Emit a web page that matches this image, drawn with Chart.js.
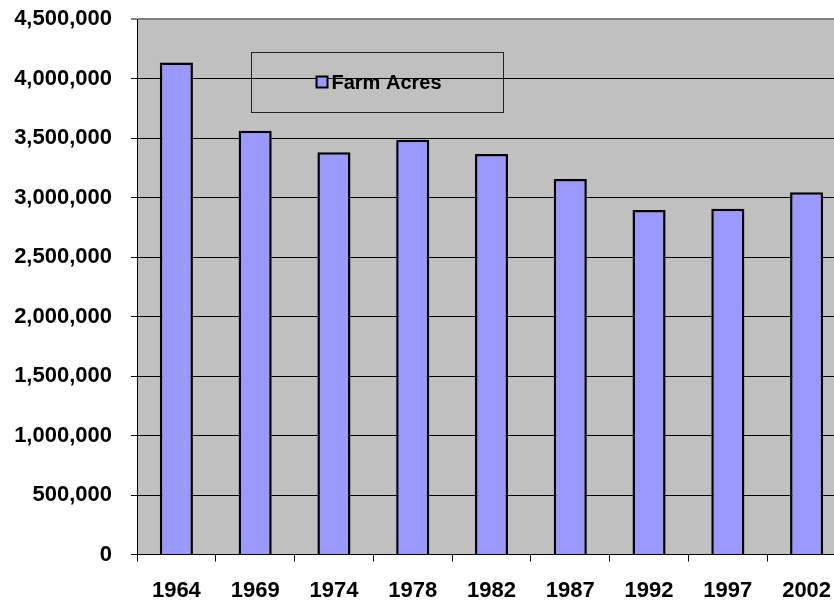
<!DOCTYPE html>
<html>
<head>
<meta charset="utf-8">
<script src="https://cdn.jsdelivr.net/npm/chart.js@4"></script>
<style>
  html, body { margin: 0; padding: 0; background: #ffffff; overflow: hidden; }
  #wrap { width: 846px; height: 602px; }
</style>
</head>
<body>
<div id="wrap"><canvas id="farmChart" width="846" height="602"></canvas></div>
<script>
// Datos
const years = ['1964', '1969', '1974', '1978', '1982', '1987', '1992', '1997', '2002'];
const farmAcres = [4135000, 3560000, 3380000, 3485000, 3365000, 3155000, 2895000, 2905000, 3045000];
const seriesLabel = 'Farm Acres';
const yMin = 0;
const yMax = 4500000;
const yStep = 500000;

const FONT = "'Liberation Sans', Arial, sans-serif";

// Fondo gris del área de trazado
const plotBackground = {
    id: 'plotBackground',
    beforeDraw(chart) {
        const { ctx, chartArea: a } = chart;
        ctx.save();
        ctx.fillStyle = '#c0c0c0';
        ctx.fillRect(a.left, a.top, a.right - a.left, a.bottom - a.top);
        ctx.restore();
    }
};

// Leyenda dentro del área (estilo Excel)
const boxLegend = {
    id: 'boxLegend',
    afterDatasetsDraw(chart) {
        const { ctx, chartArea: a } = chart;
        const ds = chart.data.datasets[0];
        const x = a.left + 114.5, y = a.top + 33.5, w = 252, h = 60;
        ctx.save();
        ctx.strokeStyle = '#222';
        ctx.lineWidth = 1;
        ctx.strokeRect(x, y, w, h);
        // marcador
        ctx.fillStyle = ds.backgroundColor;
        ctx.fillRect(x + 65, y + 24, 11, 11);
        ctx.strokeStyle = '#000';
        ctx.lineWidth = 2;
        ctx.strokeRect(x + 65, y + 24, 11, 11);
        // texto
        ctx.fillStyle = '#000';
        ctx.font = 'bold 20px ' + FONT;
        ctx.textBaseline = 'middle';
        ctx.textAlign = 'left';
        ctx.fillText(ds.label, x + 80, y + 31);
        ctx.restore();
    }
};

new Chart(document.getElementById('farmChart').getContext('2d'), {
    type: 'bar',
    data: {
        labels: years,
        datasets: [{
            label: seriesLabel,
            data: farmAcres,
            backgroundColor: '#9999ff',
            borderColor: '#000000',
            borderWidth: 2.5,
            barPercentage: 0.42,
            categoryPercentage: 1
        }]
    },
    options: {
        responsive: false,
        animation: false,
        layout: { padding: { top: 19, right: 0, left: 0, bottom: 0 } },
        plugins: {
            legend: { display: false },
            tooltip: { enabled: false }
        },
        scales: {
            x: {
                offset: true,
                grid: {
                    display: true,
                    offset: true,
                    drawOnChartArea: false,
                    drawTicks: true,
                    tickLength: 7,
                    color: '#000'
                },
                border: { display: true, color: '#000', width: 1 },
                ticks: {
                    color: '#000',
                    padding: 16,
                    maxRotation: 0,
                    autoSkip: false,
                    font: { family: FONT, size: 22, weight: 'bold' }
                },
                afterFit(scale) {
                    scale.height = 47.5;
                    scale.paddingLeft = 0;
                    scale.paddingRight = 0;
                }
            },
            y: {
                min: yMin,
                max: yMax,
                grid: {
                    color: (c) => (c.tick && c.tick.value === yMax ? '#808080' : '#000'),
                    lineWidth: (c) => (c.tick && c.tick.value === yMax ? 2 : 1),
                    drawTicks: true,
                    tickLength: 6
                },
                border: { display: true, color: '#000', width: 1 },
                ticks: {
                    stepSize: yStep,
                    color: '#000',
                    padding: 19,
                    font: { family: FONT, size: 22, weight: 'bold' },
                    callback: (v) => Number(v).toLocaleString('en-US')
                },
                afterFit(scale) {
                    scale.width = 137;
                    scale.paddingTop = 0;
                    scale.paddingBottom = 0;
                }
            }
        }
    },
    plugins: [plotBackground, boxLegend]
});
</script>
</body>
</html>
